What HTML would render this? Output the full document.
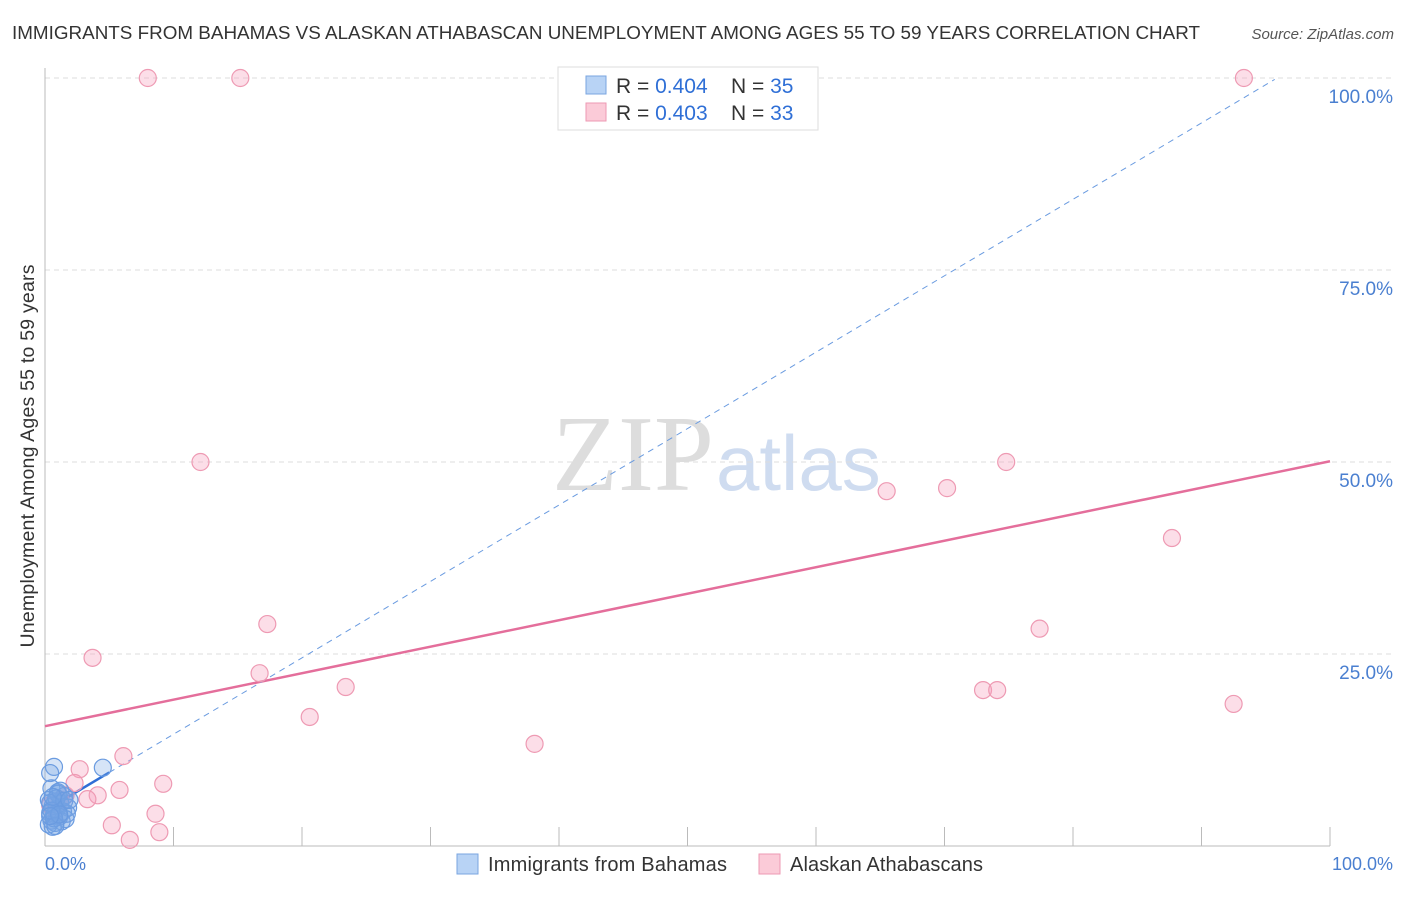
<!DOCTYPE html>
<html><head><meta charset="utf-8"><style>
body{margin:0;background:#fff;font-family:"Liberation Sans",sans-serif}
</style></head><body>
<svg width="1406" height="892" viewBox="0 0 1406 892" xmlns="http://www.w3.org/2000/svg">
<text x="12" y="39" font-size="18.5" fill="#333" textLength="1188" lengthAdjust="spacingAndGlyphs">IMMIGRANTS FROM BAHAMAS VS ALASKAN ATHABASCAN UNEMPLOYMENT AMONG AGES 55 TO 59 YEARS CORRELATION CHART</text>
<text x="1394" y="39" font-size="15" fill="#555" text-anchor="end" font-style="italic">Source: ZipAtlas.com</text>
<text x="714" y="490" font-size="108" fill="#ddd" text-anchor="end" font-family="Liberation Serif">ZIP</text>
<text x="716" y="490" font-size="78" fill="#cfdcf0">atlas</text>
<g id="grid"></g>
<g id="axes"></g>
<g id="lines"></g>
<g id="pts"></g>
<text transform="translate(34,456) rotate(-90)" font-size="19.5" fill="#333" text-anchor="middle" textLength="383">Unemployment Among Ages 55 to 59 years</text>
<text x="45" y="870" font-size="18" fill="#4a7fd0">0.0%</text>
<text x="1393" y="870" font-size="18" fill="#4a7fd0" text-anchor="end">100.0%</text>
<g>
<rect x="558" y="67" width="260" height="63" fill="#fff" stroke="#ddd"/>
<rect x="586" y="76" width="20" height="18" fill="#b8d3f5" stroke="#7aa6e0"/>
<rect x="586" y="103" width="20" height="18" fill="#fbcbd8" stroke="#ee9ab3"/>
<text x="616" y="93" font-size="21" fill="#333">R = <tspan fill="#2f6fd6">0.404</tspan><tspan x="731">N = </tspan><tspan fill="#2f6fd6">35</tspan></text>
<text x="616" y="120" font-size="21" fill="#333">R = <tspan fill="#2f6fd6">0.403</tspan><tspan x="731">N = </tspan><tspan fill="#2f6fd6">33</tspan></text>
</g>
<g>
<rect x="457" y="854" width="21" height="20" fill="#b8d3f5" stroke="#7aa6e0"/>
<text x="488" y="871" font-size="20" fill="#333" textLength="239">Immigrants from Bahamas</text>
<rect x="759" y="854" width="21" height="20" fill="#fbcbd8" stroke="#ee9ab3"/>
<text x="790" y="871" font-size="20" fill="#333" textLength="193">Alaskan Athabascans</text>
</g>
</svg>
<script>
const yTicks=[25,50,75,100];
const yTickLabels=["25.0%","50.0%","75.0%","100.0%"];
const xTicks=[10,20,30,40,50,60,70,80,90,100];
const pinkX=[8.0,15.2,93.3,12.1,74.8,65.5,70.2,87.7,17.3,3.7,77.4,16.7,23.4,73.0,74.1,20.6,92.5,38.1,6.1,2.7,2.3,9.2,5.8,4.1,3.3,8.6,5.2,8.9,6.6,1.2,0.8,1.6,0.4];
const pinkY=[100,100,100,50,50,46.2,46.6,40.1,28.9,24.5,28.3,22.5,20.7,20.3,20.3,16.8,18.5,13.3,11.7,10.0,8.2,8.1,7.3,6.6,6.1,4.2,2.7,1.8,0.8,6.0,4.7,6.6,5.3];
const blueX=[0.7,0.4,4.5,0.5,1.0,1.5,0.3,0.8,1.2,1.8,0.6,0.9,1.4,0.4,0.7,1.1,1.6,0.5,0.8,1.3,0.3,0.6,1.0,1.7,0.9,0.4,1.2,0.7,1.5,0.5,0.8,1.1,0.6,1.9,0.4];
const blueY=[10.3,9.5,10.2,7.5,7.0,6.5,6.0,5.8,5.5,5.0,5.2,4.8,4.5,4.3,4.0,3.8,3.5,3.3,3.0,3.2,2.8,2.5,6.8,4.2,6.2,5.6,7.2,3.6,5.9,4.6,2.6,4.1,6.4,6.0,3.9];
const pinkLine=[15.6,50.1];
const blueLine={a:4.6,b:0.995};
const X=v=>45+v*12.85, Y=v=>846-v*7.68;
const NS="http://www.w3.org/2000/svg";
function mk(p,t,a){const e=document.createElementNS(NS,t);for(const k in a)e.setAttribute(k,a[k]);document.getElementById(p).appendChild(e);return e;}
yTicks.forEach((t,i)=>{
 const l=mk('grid','line',{x1:45,x2:1395,y1:Y(t),y2:Y(t),stroke:'#ddd','stroke-dasharray':'5,4'});
 
 
 const tx=mk('grid','text',{x:1393,y:Y(t)+25,'font-size':19,fill:'#4a7fd0','text-anchor':'end'});
 tx.textContent=yTickLabels[i];
 
 
});
let ax=mk('axes','line',{x1:45,x2:45,y1:68,y2:846,stroke:'#bbb'});


ax=mk('axes','line',{x1:45,x2:1330,y1:846,y2:846,stroke:'#bbb'});


xTicks.forEach(t=>{
 const l=mk('axes','line',{x1:X(t),x2:X(t),y1:827,y2:846,stroke:'#bbb'});
 
 
});
pinkX.forEach((x,i)=>{
 const c=mk('pts','circle',{cx:X(x),cy:Y(pinkY[i]),r:8.5,fill:'rgba(246,160,188,0.35)',stroke:'#ee9ab3','stroke-width':1.2});
 
 
});
blueX.forEach((x,i)=>{
 const c=mk('pts','circle',{cx:X(x),cy:Y(blueY[i]),r:8.5,fill:'rgba(120,165,230,0.3)',stroke:'#6a9be0','stroke-width':1.2});
 
 
});
let l=mk('lines','line',{x1:X(0),y1:Y(pinkLine[0]),x2:X(100),y2:Y(pinkLine[1]),stroke:'#e46e9b','stroke-width':2.5});


l=mk('lines','line',{x1:X(5),y1:Y(blueLine.a+blueLine.b*5),x2:X(95.7),y2:Y(blueLine.a+blueLine.b*95.7),stroke:'#6a9be0','stroke-width':1,'stroke-dasharray':'6,5'});


l=mk('lines','line',{x1:X(0.3),y1:Y(blueLine.a+blueLine.b*0.3),x2:X(5),y2:Y(blueLine.a+blueLine.b*5),stroke:'#2f6fd6','stroke-width':2.5});


</script>
</body></html>
